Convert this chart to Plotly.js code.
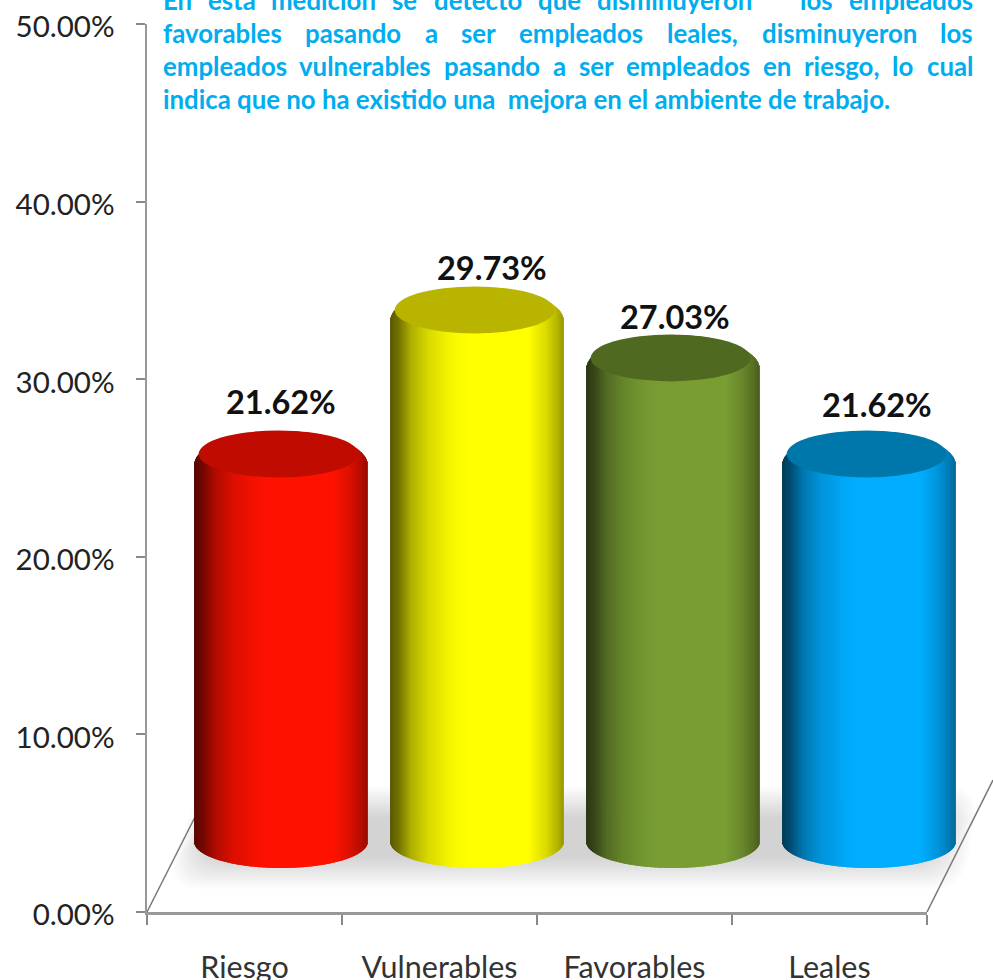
<!DOCTYPE html>
<html>
<head>
<meta charset="utf-8">
<script src="https://cdn.plot.ly/plotly-3.0.1.min.js"></script>
<style>html,body{margin:0;padding:0;background:#fff;overflow:hidden}</style>
</head>
<body>
<div id="chart" style="width:993px;height:980px"></div>
<script>
// ---- data ----
const categories = ['Riesgo', 'Vulnerables', 'Favorables', 'Leales'];
const values = [21.62, 29.73, 27.03, 21.62];
const yTicks = [0, 10, 20, 30, 40, 50];
const noteLines = [
  'En esta medición se detectó que disminuyeron   los empleados',
  'favorables pasando a ser empleados leales, disminuyeron los',
  'empleados vulnerables pasando a ser empleados en riesgo, lo cual',
  'indica que no ha existido una  mejora en el ambiente de trabajo.'
];
// ---- style ----
const bodyColors = [[255,18,0],[255,255,0],[122,158,51],[0,173,255]];
const capColors = ['#c00c00','#b8b400','#4f6a20','#0077aa'];
const shadeStops = [[0,.34],[.05,.45],[.12,.68],[.22,.85],[.36,.97],[.45,1],[.8,1],[.9,.86],[.97,.7],[1,.6]];
const labelDx = [0, .077, .01, .04];
const labelDy = [3.55+3.6, 3.55+3.0, 3.55+2.95, 3.55+3.4];

const W = 993, H = 980, L = 147, R = 0, T = 24, B = 68;
const plotW = W-L-R, plotH = H-T-B, catPx = 195;
const barDepthX = 0.187, barStep = 196/195, barWidth = 0.887, strips = 173;
const lift = 3.55, domeH = 34/17.76, floorSide = (912-842)/17.76, floorH = 26/17.76;
const px = x => (x-L)/plotW, py = y => (H-B-y)/plotH;

function shade(u){
  for(let i=1;i<shadeStops.length;i++){
    if(u<=shadeStops[i][0]){
      const a=shadeStops[i-1],b=shadeStops[i],t=(u-a[0])/(b[0]-a[0]);
      return a[1]+(b[1]-a[1])*t;
    }
  }
  return 1;
}
const traces = [{
  type:'bar', x:categories, y:values, xaxis:'x', yaxis:'y',
  marker:{opacity:0}, hoverinfo:'skip', showlegend:false
}];
const shapes = [];
const annotations = [];

// floor shadow (soft edge from stacked translucent outlines)
for(let k=0;k<22;k++){
  const x0=172+k*1.6, x1=976-k*1.6, y0=786+k*1.5, y1=889-k*1.5, r=26;
  shapes.push({type:'path',xref:'paper',yref:'paper',layer:'below',line:{width:0},fillcolor:'rgba(0,0,0,0.0095)',
    path:`M${px(x0+r)},${py(y0)} L${px(x1-r)},${py(y0)} Q${px(x1)},${py(y0)} ${px(x1)},${py(y0+r)} L${px(x1-8)},${py(y1-r)} Q${px(x1-16)},${py(y1)} ${px(x1-16-r)},${py(y1)} L${px(x0+r)},${py(y1)} Q${px(x0)},${py(y1)} ${px(x0)},${py(y1-r)} Z`});
}
// floor edges
[[147,912,195,817],[927,912,993,780]].forEach(s=>shapes.push({type:'line',xref:'paper',yref:'paper',layer:'below',
  x0:px(s[0]),y0:py(s[1]),x1:px(s[2]),y1:py(s[3]),line:{color:'#777',width:1.5}}));

categories.forEach((c,i)=>{
  const cx = i*barStep+barDepthX, xs=[],ys=[],bs=[],ws=[],cs=[];
  const top = values[i]+lift, sw = barWidth/strips;
  for(let s=0;s<strips;s++){
    const u=(s+.5)/strips, t=2*u-1, e=Math.sqrt(1-t*t), m=shade(u), col=bodyColors[i];
    const base=floorSide-floorH*e, tip=top+domeH*e;
    xs.push(cx-barWidth/2+(s+.5)*sw); bs.push(base); ys.push(tip-base); ws.push(sw*1.9);
    cs.push(`rgb(${Math.round(col[0]*m)},${Math.round(col[1]*m)},${Math.round(col[2]*m)})`);
  }
  traces.push({type:'bar',x:xs,y:ys,base:bs,width:ws,xaxis:'x2',yaxis:'y',
    marker:{color:cs,line:{width:0}},hoverinfo:'skip',showlegend:false});
  const capCy = top+11/17.76, capRx=0.41, capRy=23.5/17.76;
  shapes.push({type:'circle',xref:'x2',yref:'y',layer:'above',line:{width:0},fillcolor:capColors[i],
    x0:cx-capRx-0.012,x1:cx+capRx-0.012,y0:capCy-capRy,y1:capCy+capRy});
  annotations.push({xref:'x2',yref:'y',x:cx+labelDx[i],y:values[i]+labelDy[i],text:values[i].toFixed(2)+'%',showarrow:false,
    xanchor:'center',yanchor:'middle',font:{family:'Lato',size:32.5,color:'#111',weight:700}});
});

// justified note text, one real text run per word
const noteFont={family:'Lato',size:25.8,color:'#00adef',weight:700};
const ctx=document.createElement('canvas').getContext('2d');
ctx.font=`700 ${noteFont.size}px "Lato"`;
const noteLeft=160.5, noteRight=971, noteY=[0,33,66,99];
noteLines.forEach((line,li)=>{
  if(li===3){
    annotations.push({xref:'paper',yref:'paper',x:px(noteLeft),y:py(noteY[li]),text:line,showarrow:false,
      xanchor:'left',yanchor:'middle',font:noteFont});
    return;
  }
  const words=line.split(/\s+/), gaps=line.split(/\S+/).slice(1,-1).map(g=>g.length);
  const ww=words.map(w=>ctx.measureText(w).width), sum=ww.reduce((a,b)=>a+b,0);
  const units=gaps.reduce((a,b)=>a+b,0), gap=(noteRight-noteLeft-sum)/units;
  let x=noteLeft;
  words.forEach((w,wi)=>{
    annotations.push({xref:'paper',yref:'paper',x:px(x),y:py(noteY[li]),text:w,showarrow:false,
      xanchor:'left',yanchor:'middle',font:noteFont});
    x+=ww[wi]+(gaps[wi]||0)*gap;
  });
});

const layout={
  width:W,height:H,margin:{l:L,r:R,t:T,b:B,pad:0},
  paper_bgcolor:'#fff',plot_bgcolor:'rgba(0,0,0,0)',showlegend:false,barmode:'overlay',
  font:{family:'Lato',color:'#222'},
  xaxis:{type:'category',domain:[0,780/plotW],range:[-.5,3.5],anchor:'y',tickson:'boundaries',
    showline:true,linecolor:'#999',linewidth:2.5,ticks:'outside',ticklen:10,tickwidth:2,tickcolor:'#888',showgrid:false,zeroline:false,
    ticklabelstandoff:27,tickfont:{family:'Lato',size:30.5,color:'#333'},title:{text:''}},
  xaxis2:{type:'linear',domain:[0,1],range:[-.5,plotW/catPx-.5],anchor:'y',visible:false,showgrid:false,zeroline:false},
  yaxis:{range:[0,50],anchor:'x',tickmode:'array',tickvals:yTicks,ticktext:yTicks.map(v=>v.toFixed(2)+'%'),
    showline:true,linecolor:'#999',linewidth:2.5,ticks:'outside',ticklen:9,tickwidth:2,tickcolor:'#888',showgrid:false,zeroline:false,
    ticklabelstandoff:15,ticklabelshift:3,tickfont:{family:'Lato',size:29.5,color:'#222'},title:{text:''}},
  shapes,annotations
};
Plotly.newPlot('chart',traces,layout,{displayModeBar:false,staticPlot:true});
</script>
</body>
</html>
